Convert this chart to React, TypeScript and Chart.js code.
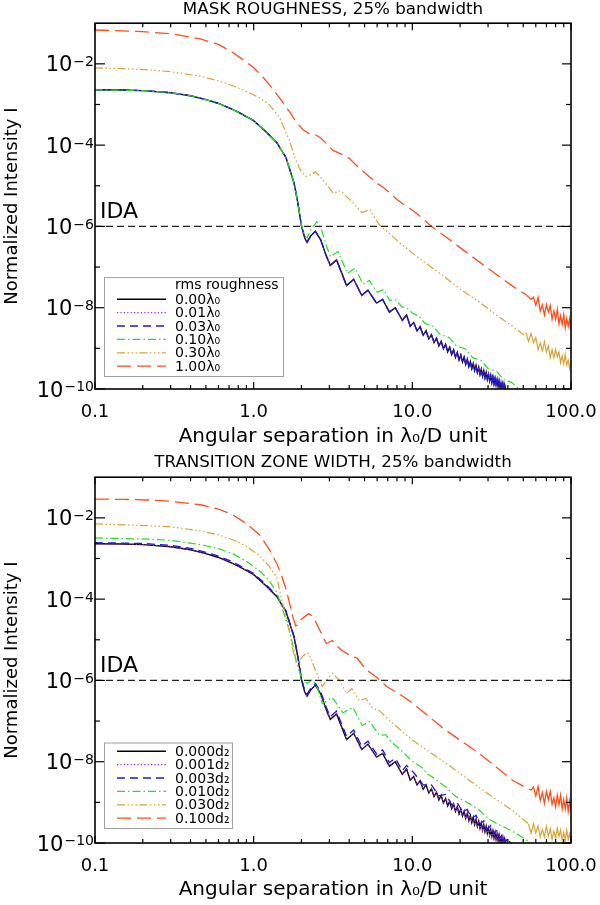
import { useEffect, useRef } from "react"
import { Chart, registerables } from "chart.js"

Chart.register(...registerables)

type Pt = [number, number]

const FONT = '"DejaVu Sans", "Liberation Sans", sans-serif'

// axes
const X_MIN = 0.1
const X_MAX = 100
const Y_MIN = 1e-10
const Y_MAX = 1e-1
const X_TICKS = [0.1, 1, 10, 100]
const X_TICK_LABELS = ["0.1", "1.0", "10.0", "100.0"]
const X_MINOR = [0.2, 0.3, 0.4, 0.5, 0.6, 0.7, 0.8, 0.9, 2, 3, 4, 5, 6, 7, 8, 9, 20, 30, 40, 50, 60, 70, 80, 90]
const Y_TICKS = [1e-2, 1e-4, 1e-6, 1e-8, 1e-10]
const Y_TICK_EXP = ["−2", "−4", "−6", "−8", "−10"]
const Y_MINOR = [1e-3, 1e-5, 1e-7, 1e-9]
const IDA_LEVEL = 1e-6
// beyond this separation the simulated curves turn into a noisy band
const NOISE_FROM = 52

const ROUGH_LABELS = ["0.00λ₀", "0.01λ₀", "0.03λ₀", "0.10λ₀", "0.30λ₀", "1.00λ₀"]
const TZ_LABELS = ["0.000d₂", "0.001d₂", "0.003d₂", "0.010d₂", "0.030d₂", "0.100d₂"]

// nominal coronagraph profile (no roughness / no transition zone)
const NOMINAL: Pt[] = [
  [0.1, 2.3e-3], [0.15, 2.27e-3], [0.2, 2.2e-3], [0.3, 1.95e-3], [0.4, 1.64e-3], [0.5, 1.32e-3],
  [0.6, 1.06e-3], [0.7, 8.3e-4], [0.8, 6.5e-4], [1.0, 4.0e-4], [1.2, 2.1e-4], [1.4, 1.15e-4],
  [1.6, 4.9e-5], [1.8, 1.14e-5], [1.9, 3.7e-6], [2.0, 1.05e-6], [2.1, 5.1e-7], [2.17, 4.1e-7],
  [2.3, 6.0e-7], [2.45, 7.6e-7], [2.65, 4.6e-7], [2.85, 2.0e-7], [3.04, 1.1e-7], [3.33, 1.5e-7],
  [3.85, 3.5e-8], [4.27, 5.0e-8], [4.8, 2.0e-8], [5.25, 2.7e-8], [5.95, 1.3e-8], [6.5, 1.6e-8],
  [7.17, 7.8e-9], [7.8, 1.0e-8], [8.65, 4.9e-9], [9.2, 6.6e-9], [9.7, 3.5e-9], [10.2, 4.3e-9],
  [10.7, 2.7e-9], [11.2, 3.4e-9], [11.7, 2.1e-9], [12.2, 2.7e-9], [12.7, 1.7e-9], [13.2, 2.16e-9],
  [13.7, 1.39e-9], [14.2, 1.78e-9], [14.7, 1.15e-9], [15.2, 1.48e-9], [15.7, 9.7e-10], [16.2, 1.25e-9],
  [16.7, 8.2e-10], [17.2, 1.06e-9], [17.7, 7.0e-10], [18.2, 9.1e-10], [18.7, 6.0e-10], [19.2, 7.9e-10],
  [19.7, 5.2e-10], [20.2, 6.9e-10], [20.7, 4.6e-10], [21.2, 6.05e-10], [21.7, 4.04e-10], [22.2, 5.35e-10],
  [22.7, 3.58e-10], [23.2, 4.74e-10], [23.7, 3.19e-10], [24.2, 4.24e-10], [24.7, 2.85e-10], [25.2, 3.8e-10],
  [25.7, 2.56e-10], [26.2, 3.42e-10], [26.7, 2.31e-10], [27.2, 3.09e-10], [27.7, 2.09e-10], [28.2, 2.81e-10],
  [28.7, 1.9e-10], [29.2, 2.56e-10], [29.7, 1.74e-10], [30.2, 2.33e-10], [30.7, 1.59e-10], [31.2, 2.14e-10],
  [31.7, 1.46e-10], [32.2, 1.96e-10], [32.7, 1.34e-10], [33.2, 1.81e-10], [33.7, 1.24e-10], [34.2, 1.67e-10],
  [34.7, 1.14e-10], [35.2, 1.55e-10], [35.7, 1.06e-10], [36.2, 1.44e-10], [36.7, 9.8e-11], [37.2, 1.33e-10],
  [37.7, 9.1e-11], [38.2, 1.24e-10], [39.0, 8.0e-11],
]

// mask roughness panel
const ROUGH_010: Pt[] = [
  [0.1, 2.3e-3], [0.2, 2.2e-3], [0.3, 1.95e-3], [0.4, 1.64e-3], [0.5, 1.32e-3], [0.6, 1.06e-3],
  [0.7, 8.3e-4], [0.8, 6.5e-4], [1.0, 4.0e-4], [1.2, 2.1e-4], [1.4, 1.15e-4], [1.6, 4.9e-5],
  [1.8, 1.15e-5], [1.9, 3.8e-6], [2.0, 1.1e-6], [2.1, 5.8e-7], [2.17, 5.2e-7], [2.3, 8.5e-7],
  [2.5, 1.3e-6], [2.7, 7.5e-7], [2.85, 3.6e-7], [3.05, 1.8e-7], [3.4, 2.4e-7], [3.9, 7.0e-8],
  [4.35, 9.4e-8], [4.9, 3.8e-8], [5.35, 4.7e-8], [6.0, 2.4e-8], [6.6, 2.8e-8], [7.2, 1.5e-8],
  [7.8, 1.6e-8], [8.6, 1.05e-8], [9.2, 1.0e-8], [10, 7.4e-9], [11, 6.2e-9], [12, 4.1e-9],
  [13.5, 3.5e-9], [15, 2.2e-9], [17, 1.86e-9], [19, 1.15e-9], [21.5, 9.8e-10], [24, 5.9e-10],
  [27, 5.1e-10], [30, 3.2e-10], [34, 2.7e-10], [38, 1.66e-10], [42, 1.48e-10], [47, 1.0e-10], [52, 7.6e-11],
]

const ROUGH_030: Pt[] = [
  [0.1, 8.0e-3], [0.15, 7.6e-3], [0.22, 7.1e-3], [0.3, 6.4e-3], [0.46, 5.0e-3], [0.6, 3.8e-3],
  [0.74, 2.9e-3], [0.9, 2.1e-3], [1.09, 1.45e-3], [1.25, 1.0e-3], [1.46, 4.7e-4], [1.6, 2.0e-4],
  [1.68, 1.3e-4], [1.8, 5.5e-5], [1.95, 2.6e-5], [2.13, 1.7e-5], [2.3, 1.9e-5], [2.45, 2.2e-5],
  [2.65, 1.6e-5], [2.87, 1.1e-5], [3.18, 6.5e-6], [3.53, 7.6e-6], [3.85, 5.4e-6], [4.2, 3.9e-6],
  [4.8, 2.2e-6], [5.4, 2.6e-6], [5.8, 1.6e-6], [6.2, 1.1e-6], [6.8, 8.0e-7], [7.5, 5.7e-7],
  [8.3, 4.0e-7], [9.2, 2.9e-7], [10, 2.2e-7], [12.5, 1.15e-7], [16.3, 5.4e-8], [20, 2.9e-8],
  [26.4, 1.38e-8], [35, 6.0e-9], [42.8, 3.5e-9], [50, 2.2e-9], [52, 2.45e-9], [54, 1.48e-9],
  [56, 2.34e-9], [58, 1.38e-9], [60, 1.86e-9], [62, 9.3e-10], [64, 1.35e-9], [66, 8.7e-10],
  [68, 1.48e-9], [70, 8.1e-10], [72, 1.15e-9], [74, 5.9e-10], [76, 9.3e-10], [78, 5.9e-10],
  [80, 9.5e-10], [82, 6.2e-10], [84, 8.1e-10], [86, 4.4e-10], [88, 6.6e-10], [90, 4.1e-10],
  [92, 7.2e-10], [94, 3.9e-10], [96, 5.1e-10], [98, 3.2e-10], [100, 5.0e-10],
]

const ROUGH_100: Pt[] = [
  [0.1, 6.8e-2], [0.2, 6.2e-2], [0.3, 5.5e-2], [0.46, 4.1e-2], [0.6, 3.0e-2], [0.74, 1.9e-2],
  [0.9, 1.1e-2], [1.0, 8.0e-3], [1.15, 4.6e-3], [1.3, 2.6e-3], [1.5, 1.25e-3], [1.7, 6.2e-4],
  [1.86, 3.6e-4], [2.05, 2.4e-4], [2.25, 1.9e-4], [2.45, 1.8e-4], [2.65, 1.5e-4], [2.9, 1.05e-4],
  [3.16, 7.4e-5], [3.6, 5.9e-5], [4.02, 4.7e-5], [4.4, 3.3e-5], [4.8, 2.4e-5], [5.3, 1.75e-5],
  [5.9, 1.2e-5], [6.5, 9.3e-6], [7.17, 6.8e-6], [8.0, 4.6e-6], [8.7, 3.6e-6], [9.6, 2.8e-6],
  [10.6, 2.1e-6], [12, 1.4e-6], [13.4, 9.5e-7], [17.2, 4.7e-7], [21.9, 2.3e-7], [30.6, 8.8e-8],
  [42.8, 3.4e-8], [52, 2.1e-8], [56, 1.6e-8], [58, 1.82e-8], [60, 1.15e-8], [62, 1.78e-8],
  [64, 8.3e-9], [66, 1.17e-8], [68, 6.6e-9], [70, 1.2e-8], [72, 7.8e-9], [74, 1.12e-8],
  [76, 5.2e-9], [78, 8.3e-9], [80, 5.2e-9], [82, 9.1e-9], [84, 4.0e-9], [86, 6.3e-9],
  [88, 3.9e-9], [90, 6.8e-9], [92, 3.2e-9], [94, 5.4e-9], [96, 3.5e-9], [98, 5.4e-9], [100, 2.8e-9],
]

// transition zone width panel
const TZ_003: Pt[] = [
  [0.1, 2.45e-3], [0.2, 2.35e-3], [0.3, 2.1e-3], [0.4, 1.77e-3], [0.5, 1.42e-3], [0.6, 1.14e-3],
  [0.7, 9.0e-4], [0.8, 7.0e-4], [1.0, 4.3e-4], [1.2, 2.25e-4], [1.4, 1.2e-4], [1.6, 5.1e-5],
  [1.8, 1.2e-5], [1.9, 3.9e-6], [2.0, 1.15e-6], [2.1, 5.6e-7], [2.17, 4.6e-7], [2.3, 6.6e-7],
  [2.45, 8.4e-7], [2.65, 5.2e-7], [2.85, 2.3e-7], [3.04, 1.3e-7], [3.33, 1.75e-7], [3.85, 4.2e-8],
  [4.27, 6.0e-8], [4.8, 2.4e-8], [5.25, 3.2e-8], [5.95, 1.55e-8], [6.5, 1.95e-8], [7.17, 9.5e-9],
  [7.8, 1.22e-8], [8.65, 6.0e-9], [9.2, 8.1e-9], [10.2, 5.4e-9], [11.7, 2.7e-9], [13.2, 2.7e-9],
  [14.7, 1.45e-9], [16.2, 1.57e-9], [17.7, 8.8e-10], [19.2, 9.9e-10], [20.7, 5.8e-10], [22.2, 6.7e-10],
  [23.7, 4.0e-10], [25.2, 4.8e-10], [26.7, 2.9e-10], [28.2, 3.5e-10], [29.7, 2.2e-10], [31.2, 2.7e-10],
  [32.7, 1.7e-10], [34.2, 2.1e-10], [35.7, 1.33e-10], [37.2, 1.68e-10], [38.7, 1.07e-10], [40.2, 1.36e-10],
  [42, 8.6e-11],
]

const TZ_010: Pt[] = [
  [0.1, 3.2e-3], [0.22, 3.0e-3], [0.3, 2.8e-3], [0.46, 2.2e-3], [0.6, 1.75e-3], [0.74, 1.3e-3],
  [0.9, 8.5e-4], [1.09, 5.0e-4], [1.25, 2.9e-4], [1.4, 1.45e-4], [1.55, 4.5e-5], [1.68, 1.7e-5],
  [1.78, 6.5e-6], [1.86, 2.8e-6], [2.03, 1.0e-6], [2.18, 8.5e-7], [2.35, 1.05e-6], [2.53, 6.3e-7],
  [2.71, 2.7e-7], [3.13, 3.8e-7], [3.66, 1.6e-7], [4.22, 2.2e-7], [4.83, 7.8e-8], [5.37, 9.8e-8],
  [6.2, 4.5e-8], [6.8, 4.6e-8], [7.17, 3.4e-8], [8.5, 1.9e-8], [10, 1.02e-8], [11.5, 7.2e-9],
  [12.5, 4.9e-9], [13.4, 4.2e-9], [15, 3.0e-9], [16.3, 2.4e-9], [18.5, 1.45e-9], [21.9, 1.02e-9],
  [26.4, 6.5e-10], [30, 4.0e-10], [35.2, 2.8e-10], [42.8, 1.95e-10], [52.3, 1.2e-10], [60, 7.5e-11],
]

const TZ_030: Pt[] = [
  [0.1, 7.1e-3], [0.22, 6.4e-3], [0.3, 6.0e-3], [0.46, 4.8e-3], [0.6, 3.8e-3], [0.74, 2.9e-3],
  [0.9, 2.0e-3], [1.09, 1.17e-3], [1.25, 6.5e-4], [1.4, 3.4e-4], [1.52, 8.0e-5], [1.64, 2.5e-5],
  [1.77, 5.5e-6], [1.86, 2.6e-6], [1.95, 3.0e-6], [2.03, 3.9e-6], [2.18, 4.9e-6], [2.3, 3.5e-6],
  [2.42, 2.0e-6], [2.71, 7.1e-7], [2.9, 1.05e-6], [3.13, 1.5e-6], [3.48, 1.0e-6], [3.85, 4.8e-7],
  [4.15, 6.3e-7], [4.65, 3.2e-7], [5.1, 3.6e-7], [5.6, 2.1e-7], [6.2, 1.8e-7], [7.17, 1.04e-7],
  [10, 3.4e-8], [16.3, 9.2e-9], [26.4, 2.3e-9], [42.8, 6.3e-10], [50, 3.8e-10], [54, 2.95e-10],
  [56, 1.74e-10], [58, 2.95e-10], [60, 1.78e-10], [62, 2.6e-10], [64, 1.41e-10], [66, 2.14e-10],
  [68, 1.41e-10], [70, 2.57e-10], [72, 1.48e-10], [74, 2.24e-10], [76, 1.23e-10], [78, 1.95e-10],
  [80, 1.32e-10], [82, 2.3e-10], [84, 1.45e-10], [86, 2.1e-10], [88, 1.17e-10], [90, 1.82e-10],
  [92, 1.2e-10], [94, 2.1e-10], [96, 1.23e-10], [98, 1.7e-10], [100, 1.12e-10],
]

const TZ_100: Pt[] = [
  [0.1, 2.9e-2], [0.15, 2.85e-2], [0.22, 2.75e-2], [0.3, 2.55e-2], [0.46, 2.1e-2], [0.6, 1.65e-2],
  [0.74, 1.18e-2], [0.9, 7.2e-3], [1.09, 3.8e-3], [1.25, 1.7e-3], [1.4, 7.4e-4], [1.5, 3.8e-4],
  [1.61, 1.6e-4], [1.77, 3.5e-5], [1.84, 2.2e-5], [1.92, 2.4e-5], [2.0, 3.2e-5], [2.22, 4.4e-5],
  [2.35, 3.8e-5], [2.48, 2.6e-5], [2.7, 1.3e-5], [2.87, 8.1e-6], [3.13, 9.6e-6], [3.3, 7.5e-6],
  [3.58, 5.5e-6], [4.15, 3.9e-6], [4.5, 3.5e-6], [4.8, 2.5e-6], [5.15, 1.8e-6], [5.95, 1.2e-6],
  [6.9, 7.1e-7], [8.3, 4.6e-7], [10, 2.8e-7], [13, 1.2e-7], [16.3, 5.9e-8], [26.4, 1.6e-8],
  [42.8, 3.5e-9], [50, 2.5e-9], [56, 2.0e-9], [58, 2.4e-9], [60, 1.45e-9], [62, 2.45e-9],
  [64, 1.12e-9], [66, 1.74e-9], [68, 9.5e-10], [70, 1.86e-9], [72, 1.17e-9], [74, 1.86e-9],
  [76, 8.9e-10], [78, 1.29e-9], [80, 7.8e-10], [82, 1.51e-9], [84, 8.7e-10], [86, 1.51e-9],
  [88, 6.9e-10], [90, 1.17e-9], [92, 6.9e-10], [94, 1.29e-9], [96, 5.9e-10], [98, 1.07e-9], [100, 5.9e-10],
]

const ROUGH_SERIES = [NOMINAL, NOMINAL, NOMINAL, ROUGH_010, ROUGH_030, ROUGH_100]
const TZ_SERIES = [NOMINAL, NOMINAL, TZ_003, TZ_010, TZ_030, TZ_100]

const STYLES = [
  { color: "#000000", dash: [] as number[], width: 1.4, noisy: false },
  { color: "#a020f0", dash: [1.2, 2.2], width: 1.2, noisy: false },
  { color: "#1a1ad2", dash: [8, 5], width: 1.3, noisy: false },
  { color: "#22e022", dash: [8, 3, 1.5, 3], width: 1.2, noisy: false },
  { color: "#d9a336", dash: [8, 2.5, 1.5, 2.5, 1.5, 2.5, 1.5, 2.5], width: 1.2, noisy: true },
  { color: "#ff4d1a", dash: [14, 6], width: 1.3, noisy: true },
]

interface PanelProps {
  title: string
  labels: string[]
  series: Pt[][]
  legendTitle?: string
  height: number
  axisHeight: number
  titlePadding: { top: number; bottom: number }
  legendWidth: number
  legendGap: number
}

function Panel({ title, labels, series, legendTitle, height, axisHeight, titlePadding, legendWidth, legendGap }: PanelProps) {
  const canvasRef = useRef<HTMLCanvasElement>(null)

  useEffect(() => {
    if (!canvasRef.current) return

    const datasets: any[] = series.map((pts, i) => ({
      label: labels[i],
      data: pts.map(([x, y]) => ({ x, y })),
      borderColor: STYLES[i].color,
      borderDash: STYLES[i].dash,
      borderWidth: STYLES[i].width,
      pointRadius: 0,
      tension: 0,
      fill: false,
      order: series.length - i,
      // the dense noise at large separations reads as a solid band
      segment: STYLES[i].noisy
        ? { borderDash: (c: any) => (c.p0.parsed.x >= NOISE_FROM ? [] : undefined) }
        : undefined,
    }))
    datasets.push({
      label: "IDA",
      data: [{ x: X_MIN, y: IDA_LEVEL }, { x: X_MAX, y: IDA_LEVEL }],
      borderColor: "#222",
      borderDash: [7, 4],
      borderWidth: 1.2,
      pointRadius: 0,
      order: 0,
    })

    // frame, inward ticks, tick labels, IDA text and legend box
    const decor = {
      id: "decor",
      afterDraw(chart: any) {
        const { ctx, chartArea: a } = chart
        const xs = chart.scales.x
        const ys = chart.scales.y
        const seg = (x1: number, y1: number, x2: number, y2: number) => {
          ctx.beginPath()
          ctx.moveTo(x1, y1)
          ctx.lineTo(x2, y2)
          ctx.stroke()
        }
        ctx.save()
        ctx.setLineDash([])
        ctx.strokeStyle = "#000"
        ctx.lineWidth = 1.2
        X_TICKS.forEach((v) => {
          const p = xs.getPixelForValue(v)
          seg(p, a.bottom, p, a.bottom - 7)
          seg(p, a.top, p, a.top + 7)
        })
        X_MINOR.forEach((v) => {
          const p = xs.getPixelForValue(v)
          seg(p, a.bottom, p, a.bottom - 4)
          seg(p, a.top, p, a.top + 4)
        })
        Y_TICKS.forEach((v) => {
          const p = ys.getPixelForValue(v)
          seg(a.left, p, a.left + 10, p)
          seg(a.right, p, a.right - 9, p)
        })
        Y_MINOR.forEach((v) => {
          const p = ys.getPixelForValue(v)
          seg(a.left, p, a.left + 5, p)
          seg(a.right, p, a.right - 5, p)
        })
        ctx.lineWidth = 1.6
        ctx.strokeRect(a.left, a.top, a.right - a.left, a.bottom - a.top)

        ctx.fillStyle = "#000"
        ctx.font = `18px ${FONT}`
        ctx.textAlign = "center"
        ctx.textBaseline = "middle"
        X_TICKS.forEach((v, i) => ctx.fillText(X_TICK_LABELS[i], xs.getPixelForValue(v), a.bottom + 23.5))

        ctx.textAlign = "right"
        ctx.textBaseline = "alphabetic"
        Y_TICKS.forEach((v, i) => {
          const p = ys.getPixelForValue(v)
          ctx.font = `14px ${FONT}`
          const ew = ctx.measureText(Y_TICK_EXP[i]).width
          ctx.fillText(Y_TICK_EXP[i], a.left - 1, p + 2.4)
          ctx.font = `21px ${FONT}`
          ctx.fillText("10", a.left - 2 - ew, p + 7.5)
        })

        ctx.textAlign = "left"
        ctx.font = `22px ${FONT}`
        ctx.fillText("IDA", a.left + 5, ys.getPixelForValue(IDA_LEVEL) - 8)

        // legend
        const rowH = 13.4
        const rows = labels.length + (legendTitle ? 1 : 0)
        const boxH = 8.7 + (rows - 1) * rowH + 9.8
        const bx = a.left + 9
        const by = a.bottom - legendGap - boxH
        ctx.strokeStyle = "#a0a0a0"
        ctx.lineWidth = 1
        ctx.strokeRect(bx + 0.5, by + 0.5, legendWidth, boxH)
        ctx.font = `14px ${FONT}`
        ctx.textBaseline = "middle"
        let y = by + 8.7
        if (legendTitle) {
          ctx.fillText(legendTitle, bx + 71, y)
          y += rowH
        }
        labels.forEach((lab, i) => {
          const st = STYLES[i]
          ctx.strokeStyle = st.color
          ctx.lineWidth = st.width
          ctx.setLineDash(st.dash)
          seg(bx + 13, y, bx + 62, y)
          ctx.setLineDash([])
          ctx.fillStyle = "#000"
          ctx.fillText(lab, bx + 71, y + 1)
          y += rowH
        })
        ctx.restore()
      },
    }

    const chart = new Chart(canvasRef.current, {
      type: "line",
      data: { datasets },
      options: {
        animation: false,
        responsive: false,
        events: [],
        layout: { padding: { left: 0, right: 29, top: 0, bottom: 0 } },
        plugins: {
          legend: { display: false },
          tooltip: { enabled: false },
          title: {
            display: true,
            fullSize: false,
            text: title,
            color: "#000",
            font: { family: FONT, size: 16.7, weight: "normal", lineHeight: 1.15 },
            padding: titlePadding,
          },
        },
        scales: {
          x: {
            type: "logarithmic",
            min: X_MIN,
            max: X_MAX,
            grid: { display: false, drawTicks: false },
            border: { display: false },
            ticks: { display: false },
            title: {
              display: true,
              text: "Angular separation in λ₀/D unit",
              color: "#000",
              font: { family: FONT, size: 20 },
              padding: { top: 0, bottom: 3 },
            },
            afterFit: (scale: any) => {
              scale.height = axisHeight
            },
          },
          y: {
            type: "logarithmic",
            min: Y_MIN,
            max: Y_MAX,
            grid: { display: false, drawTicks: false },
            border: { display: false },
            ticks: { display: false },
            title: {
              display: true,
              text: "Normalized Intensity I",
              color: "#000",
              font: { family: FONT, size: 18 },
              padding: { top: 2, bottom: 0 },
            },
            afterFit: (scale: any) => {
              scale.width = 95
            },
          },
        },
      } as any,
      plugins: [decor],
    })

    return () => {
      chart.destroy()
    }
  }, [title, labels, series, legendTitle, height, axisHeight, titlePadding, legendWidth, legendGap])

  return <canvas ref={canvasRef} width={600} height={height} style={{ display: "block" }} />
}

export default function App() {
  return (
    <div style={{ width: 600 }}>
      <style>{"body { margin: 0; background: #fff; }"}</style>
      <Panel
        title="MASK ROUGHNESS, 25% bandwidth"
        labels={ROUGH_LABELS}
        series={ROUGH_SERIES}
        legendTitle="rms roughness"
        height={452}
        axisHeight={63}
        titlePadding={{ top: 0, bottom: 4 }}
        legendWidth={179}
        legendGap={13}
      />
      <Panel
        title="TRANSITION ZONE WIDTH, 25% bandwidth"
        labels={TZ_LABELS}
        series={TZ_SERIES}
        height={453}
        axisHeight={62}
        titlePadding={{ top: 1, bottom: 5 }}
        legendWidth={128}
        legendGap={15}
      />
    </div>
  )
}
